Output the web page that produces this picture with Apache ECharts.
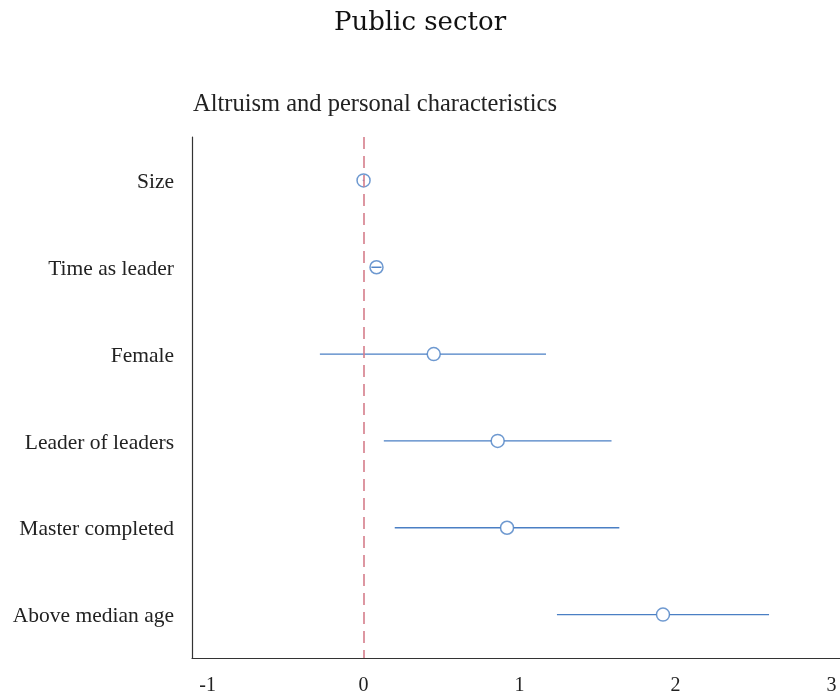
<!DOCTYPE html>
<html>
<head>
<meta charset="utf-8">
<script src="https://cdn.jsdelivr.net/npm/echarts@6/dist/echarts.min.js"></script>
<style>
  html, body { margin: 0; padding: 0; background: #fff; }
  #chart { width: 840px; height: 700px; }
</style>
</head>
<body>
<div id="chart"></div>
<script>
// Coefficient estimates with confidence intervals
const categories = ['Size', 'Time as leader', 'Female', 'Leader of leaders', 'Master completed', 'Above median age'];
const estimates  = [0.00, 0.083, 0.45, 0.86, 0.92, 1.92];
const ciLow      = [-0.005, 0.05, -0.28, 0.13, 0.20, 1.24];
const ciHigh     = [0.005, 0.115, 1.17, 1.59, 1.64, 2.60];
const xTicks     = [-1, 0, 1, 2, 3];

const BLUE = '#4a7fc4';
const RED = '#d57d8b';
const FONT = '"Liberation Serif", "DejaVu Serif", serif';
const TITLE_FONT = '"DejaVu Serif", serif';
const MARK_R = 6.5;

const chart = echarts.init(document.getElementById('chart'), null, { renderer: 'canvas' });

const ciData = categories.map((c, i) => [ciLow[i], ciHigh[i], estimates[i], i]);

chart.setOption({
  backgroundColor: '#fff',
  animation: false,
  title: [
    {
      text: 'Public sector',
      left: 'center',
      top: 5,
      textStyle: { fontFamily: TITLE_FONT, fontSize: 26, fontWeight: 'normal', color: '#111' }
    },
    {
      text: 'Altruism and personal characteristics',
      left: 188,
      top: 87,
      textStyle: { fontFamily: FONT, fontSize: 24.5, fontWeight: 'normal', color: '#222' }
    }
  ],
  grid: { left: 192, top: 137, right: 0, height: 521, containLabel: false },
  xAxis: {
    type: 'value',
    min: -1.1,
    max: 3.055,
    axisLine: { show: true, onZero: false, lineStyle: { color: '#333', width: 1.2 } },
    axisTick: { show: false },
    splitLine: { show: false },
    axisLabel: {
      customValues: xTicks,
      margin: 18,
      fontFamily: FONT,
      fontSize: 20,
      color: '#222'
    }
  },
  yAxis: {
    type: 'category',
    data: categories,
    inverse: true,
    boundaryGap: true,
    axisLine: { show: true, onZero: false, lineStyle: { color: '#333', width: 1.2 } },
    axisTick: { show: false },
    splitLine: { show: false },
    axisLabel: {
      margin: 18,
      formatter: '{c|{value}}',
      rich: {
        c: { padding: [4, 0, 0, 0], fontFamily: FONT, fontSize: 21.5, color: '#222' }
      }
    }
  },
  series: [
    {
      // confidence interval segments, with a gap left for the marker
      type: 'custom',
      z: 2,
      data: ciData,
      encode: { x: [0, 1], y: 3 },
      renderItem: function (params, api) {
        const lo = api.coord([api.value(0), api.value(3)]);
        const hi = api.coord([api.value(1), api.value(3)]);
        const pt = api.coord([api.value(2), api.value(3)]);
        const style = { stroke: BLUE, lineWidth: 1.4, fill: null };
        const children = [];
        if (hi[0] - lo[0] <= 2 * MARK_R) {
          children.push({ type: 'line', shape: { x1: lo[0], y1: lo[1], x2: hi[0], y2: hi[1] }, style: style });
        } else {
          children.push({ type: 'line', shape: { x1: lo[0], y1: lo[1], x2: pt[0] - MARK_R, y2: pt[1] }, style: style });
          children.push({ type: 'line', shape: { x1: pt[0] + MARK_R, y1: pt[1], x2: hi[0], y2: hi[1] }, style: style });
        }
        return { type: 'group', children: children };
      }
    },
    {
      type: 'scatter',
      z: 1,
      data: estimates.map((v, i) => [v, i]),
      symbol: 'circle',
      symbolSize: 2 * MARK_R,
      itemStyle: { color: 'rgba(255,255,255,0)', borderColor: BLUE, borderWidth: 1.5 },
      markLine: {
        silent: true,
        symbol: 'none',
        z: 5,
        label: { show: false },
        lineStyle: { color: RED, type: [12, 7], width: 1.6 },
        data: [{ xAxis: 0 }]
      }
    }
  ]
});
</script>
</body>
</html>
